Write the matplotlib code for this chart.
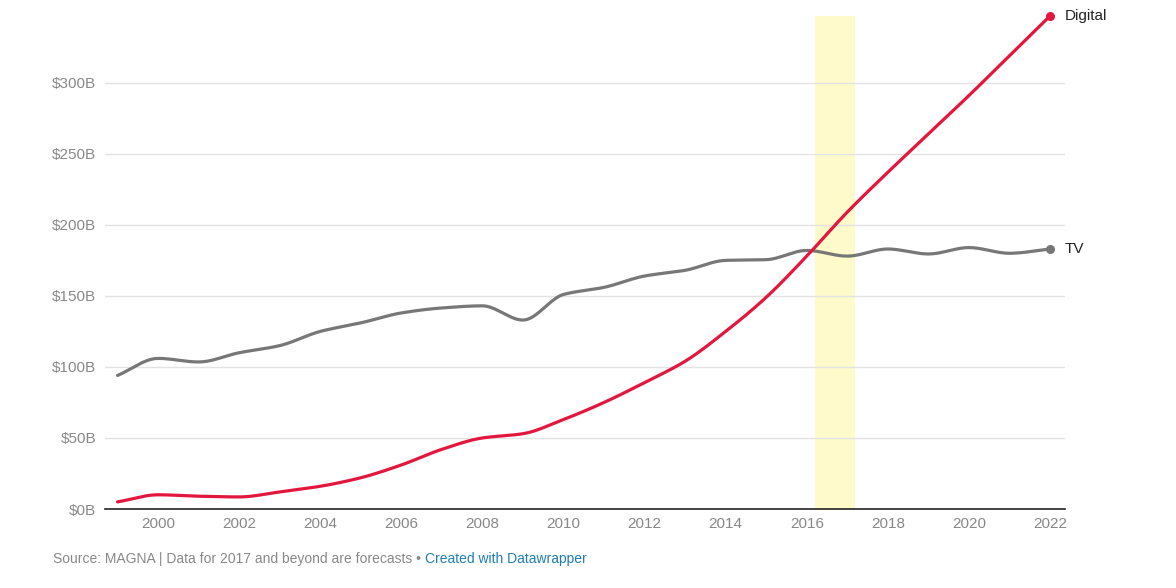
import numpy as np
import matplotlib

matplotlib.use("Agg")
import matplotlib.pyplot as plt

plt.rcParams["font.family"] = ["Liberation Sans", "DejaVu Sans"]

years = list(range(1999, 2023))
digital = [5, 10, 9, 8.5, 12, 16, 22, 31, 42, 50, 53, 63, 75, 89, 104, 125,
           149, 178, 209, 237, 264, 291, 319, 347]
tv = [94, 106, 103.5, 110, 115, 125, 131, 138, 141.5, 143, 133, 151, 156, 164,
      168, 175, 175.5, 182, 178, 183, 179.5, 184, 180, 183]
y_ticks = [0, 50, 100, 150, 200, 250, 300]
x_ticks = list(range(2000, 2023, 2))
forecast_band = (2016.2, 2017.2)

RED = "#e3173e"
GREY = "#777777"


def smooth(xs, ys, n=20):
    """Monotone cubic (Fritsch-Carlson) curve through the points, for drawing."""
    x = np.asarray(xs, float)
    y = np.asarray(ys, float)
    h = np.diff(x)
    d = np.diff(y) / h
    m = np.zeros_like(y)
    m[0], m[-1] = d[0], d[-1]
    for i in range(1, len(y) - 1):
        if d[i - 1] * d[i] > 0:
            m[i] = 2.0 / (1.0 / d[i - 1] + 1.0 / d[i])
    xo, yo = [], []
    for i in range(len(x) - 1):
        t = np.linspace(0, 1, n, endpoint=False)
        h00 = 2 * t**3 - 3 * t**2 + 1
        h10 = t**3 - 2 * t**2 + t
        h01 = -2 * t**3 + 3 * t**2
        h11 = t**3 - t**2
        xo.extend(x[i] + t * h[i])
        yo.extend(h00 * y[i] + h10 * h[i] * m[i] + h01 * y[i + 1] + h11 * h[i] * m[i + 1])
    xo.append(x[-1])
    yo.append(y[-1])
    return np.array(xo), np.array(yo)


fig = plt.figure(figsize=(11.76, 5.88), dpi=100)
ax = fig.add_axes([105 / 1176, 1 - 509 / 588, 960 / 1176, 493 / 588])

ax.set_xlim(1998.69, 2022.37)
ax.set_ylim(0, 347)

ax.axvspan(*forecast_band, color="#fefaca", zorder=0, lw=0)

for v in y_ticks[1:]:
    ax.axhline(v, color="#e3e3e3", lw=1, zorder=1)

sx, sy = smooth(years, tv)
ax.plot(sx, sy, color=GREY, lw=2.3, zorder=3, solid_capstyle="round")
sx, sy = smooth(years, digital)
ax.plot(sx, sy, color=RED, lw=2.3, zorder=4, solid_capstyle="round")

ax.plot(years[-1], tv[-1], "o", color=GREY, ms=5.5, zorder=5, clip_on=False)
ax.plot(years[-1], digital[-1], "o", color=RED, ms=5.5, zorder=5, clip_on=False)
ax.text(2022.37, tv[-1], "TV", fontsize=11, color="#222222", va="center")
ax.text(2022.37, digital[-1], "Digital", fontsize=11, color="#222222", va="center")

for s in ["top", "right", "left"]:
    ax.spines[s].set_visible(False)
ax.spines["bottom"].set_color("#222222")
ax.spines["bottom"].set_linewidth(1.2)

ax.set_yticks(y_ticks)
ax.set_yticklabels([f"${v}B" for v in y_ticks])
ax.set_xticks(x_ticks)
ax.set_xticklabels([str(v) for v in x_ticks])
ax.tick_params(axis="y", length=0, pad=6.5, labelsize=11, labelcolor="#888888")
ax.tick_params(axis="x", length=0, pad=6, labelsize=11, labelcolor="#888888")

t1 = fig.text(53 / 1176, 1 - 559 / 588,
              "Source: MAGNA | Data for 2017 and beyond are forecasts \u2022 ",
              fontsize=10, color="#888888", va="center")
fig.canvas.draw()
bb = t1.get_window_extent()
fig.text(bb.x1 / 1176, 1 - 559 / 588, "Created with Datawrapper",
         fontsize=10, color="#1f7fb8", va="center")

fig.savefig("out.png", dpi=100)
